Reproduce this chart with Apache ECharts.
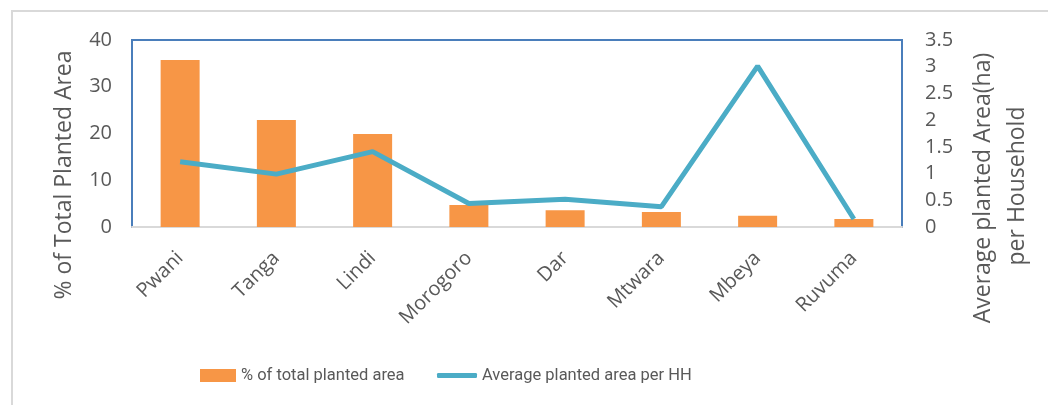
<!DOCTYPE html>
<html>
<head>
<meta charset="utf-8">
<script src="https://cdn.jsdelivr.net/npm/echarts@6/dist/echarts.min.js"></script>
<style>html,body{margin:0;padding:0;background:#fff;overflow:hidden}#c{width:1048px;height:405px}</style>
</head>
<body>
<div id="c"></div>
<script>
var categories = ['Pwani','Tanga','Lindi','Morogoro','Dar','Mtwara','Mbeya','Ruvuma'];
var pctPlanted = [35.7, 22.9, 19.9, 4.7, 3.6, 3.2, 2.4, 1.7];
var avgPerHH = [1.22, 0.99, 1.41, 0.44, 0.52, 0.38, 3.01, 0.15];
var leftTicks = {min:0, max:40, interval:10};
var rightTicks = {min:0, max:3.5, interval:0.5};
var leftTitle = '% of Total Planted Area';
var rightTitle = ['Average planted Area(ha)', 'per Household'];
var seriesNames = ['% of total planted area', 'Average planted area per HH'];

var txt = '#595959';
var legendFont = {color:txt,fontSize:16.5,fontFamily:'Roboto, sans-serif'};
var chart = echarts.init(document.getElementById('c'));
chart.setOption({
  animation:false,
  textStyle:{fontFamily:'Open Sans, DejaVu Sans, sans-serif'},
  graphic:[
    {type:'rect',shape:{x:12,y:11,width:1100,height:500},style:{fill:'none',stroke:'#d9d9d9',lineWidth:2},z:-1},
    {type:'text',x:64,y:175,rotation:Math.PI/2,style:{text:leftTitle,fill:txt,font:'23px "Open Sans", sans-serif',align:'center',verticalAlign:'middle'}},
    {type:'text',x:983,y:188,rotation:Math.PI/2,style:{text:rightTitle[0],fill:txt,font:'23px "Open Sans", sans-serif',align:'center',verticalAlign:'middle'}},
    {type:'text',x:1017,y:186,rotation:Math.PI/2,style:{text:rightTitle[1],fill:txt,font:'23px "Open Sans", sans-serif',align:'center',verticalAlign:'middle'}}
  ],
  grid:{left:132,right:146,top:40,bottom:178,show:true,borderColor:'#4a7ebb',borderWidth:2,backgroundColor:'transparent',containLabel:false,outerBoundsMode:'none'},
  legend:[
    {left:200, top:367, padding:0, itemWidth:36, itemHeight:13, textStyle:legendFont,
     data:[{name:seriesNames[0],icon:'rect'}]},
    {left:437, top:367, padding:0, itemWidth:40, itemHeight:5, textStyle:legendFont,
     data:[{name:seriesNames[1],icon:'roundRect'}]}
  ],
  xAxis:{
    type:'category', data:categories,
    axisLine:{lineStyle:{color:'#d9d9d9',width:2}},
    axisTick:{show:false},
    axisLabel:{rotate:45,color:txt,fontSize:20,margin:28,interval:0}
  },
  yAxis:[
    {type:'value',min:leftTicks.min,max:leftTicks.max,interval:leftTicks.interval,
     axisLine:{show:false},axisTick:{show:false},splitLine:{show:false},
     axisLabel:{color:txt,fontSize:20,margin:20}},
    {type:'value',min:rightTicks.min,max:rightTicks.max,interval:rightTicks.interval,
     axisLine:{show:false},axisTick:{show:false},splitLine:{show:false},
     axisLabel:{color:txt,fontSize:20,margin:23}}
  ],
  series:[
    {name:seriesNames[0],type:'bar',data:pctPlanted,barWidth:39,itemStyle:{color:'#f79646'},yAxisIndex:0},
    {name:seriesNames[1],type:'line',data:avgPerHH,yAxisIndex:1,symbol:'none',
     lineStyle:{color:'#4bacc6',width:5},itemStyle:{color:'#4bacc6'}}
  ]
});
</script>
</body>
</html>
